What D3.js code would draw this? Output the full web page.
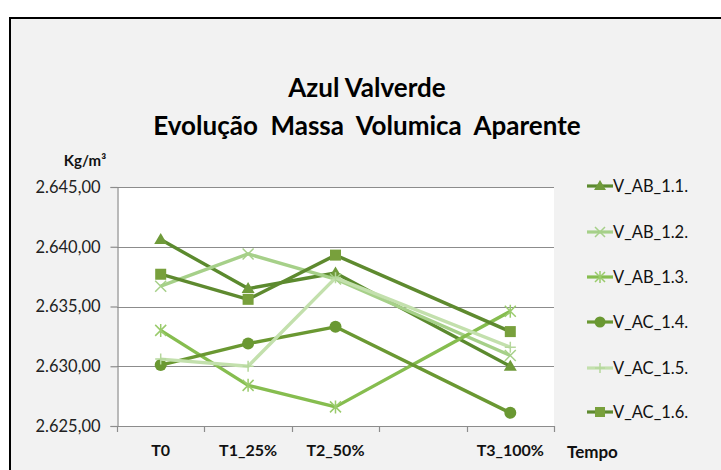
<!DOCTYPE html>
<html>
<head>
<meta charset="utf-8">
<script src="https://cdn.jsdelivr.net/npm/d3@7"></script>
<style>
  html, body { margin: 0; padding: 0; background: #ffffff; }
  svg { display: block; }
  text { font-family: Lato, "Open Sans", sans-serif; }
</style>
</head>
<body>
<div id="chart"></div>
<script>
// Categories on the time axis (the fourth slot is left empty on purpose)
const categories = ["T0", "T1_25%", "T2_50%", "", "T3_100%"];
const pointCats = ["T0", "T1_25%", "T2_50%", "T3_100%"];

// Apparent density per sample, kg/m³
const V_AB_1_1 = [2640.6, 2636.5, 2637.8, 2630.0];
const V_AB_1_2 = [2636.7, 2639.4, 2637.3, 2630.9];
const V_AB_1_3 = [2633.0, 2628.4, 2626.6, 2634.6];
const V_AC_1_4 = [2630.1, 2631.9, 2633.3, 2626.1];
const V_AC_1_5 = [2630.6, 2630.0, 2637.4, 2631.6];
const V_AC_1_6 = [2637.7, 2635.6, 2639.3, 2632.9];

const seriesNames = ["V_AB_1.1.", "V_AB_1.2.", "V_AB_1.3.", "V_AC_1.4.", "V_AC_1.5.", "V_AC_1.6."];
const seriesValues = [V_AB_1_1, V_AB_1_2, V_AB_1_3, V_AC_1_4, V_AC_1_5, V_AC_1_6];

const yTicks = [2625, 2630, 2635, 2640, 2645];

const titleLines = ["Azul Valverde", "Evolução  Massa  Volumica  Aparente"];
const yUnit = "Kg/m³";
const xTitle = "Tempo";

// Styling per series
const lineColors   = ["#5b8a2e", "#a6d089", "#86bd4f", "#6a9832", "#c3e0ad", "#5e8a2f"];
const markerColors = ["#6f9a3a", "#a6d089", "#9acb6c", "#6a9832", "#b5d79c", "#78a03c"];
const markerTypes  = ["triangle", "x", "asterisk", "circle", "plus", "square"];

const W = 721, H = 470;
const plot = { left: 117, right: 554, top: 187, bottom: 426 };

const svg = d3.select("#chart").append("svg")
  .attr("width", W).attr("height", H);

// Chart area with its frame
svg.append("rect")
  .attr("x", 10).attr("y", 18)
  .attr("width", W + 20).attr("height", H + 20)
  .attr("fill", "#f2f2f2")
  .attr("stroke", "#000").attr("stroke-width", 2);

// Titles
svg.selectAll("text.title").data(titleLines).join("text")
  .attr("class", "title")
  .attr("x", 367)
  .attr("y", (d, i) => 97 + i * 38)
  .attr("text-anchor", "middle")
  .attr("font-size", 26)
  .attr("font-weight", 700)
  .style("white-space", "pre")
  .attr("fill", "#000")
  .text(d => d);

const x = d3.scaleBand().domain(categories).range([plot.left, plot.right]);
const y = d3.scaleLinear().domain([2625, 2645]).range([plot.bottom, plot.top]);

const pt = d3.formatLocale({ decimal: ",", thousands: ".", grouping: [3], currency: ["", ""] });
const fmt = pt.format(",.2f");

// Plot area background
svg.append("rect")
  .attr("x", plot.left).attr("y", plot.top)
  .attr("width", plot.right - plot.left).attr("height", plot.bottom - plot.top)
  .attr("fill", "#ffffff");

// Horizontal gridlines
svg.append("g").selectAll("line").data(yTicks).join("line")
  .attr("x1", plot.left).attr("x2", plot.right)
  .attr("y1", d => Math.round(y(d)) + 0.5).attr("y2", d => Math.round(y(d)) + 0.5)
  .attr("stroke", "#8c8c8c").attr("stroke-width", 1.2);

// Y axis
const yAxis = svg.append("g")
  .attr("transform", `translate(${plot.left + 0.5},0)`)
  .call(d3.axisLeft(y).tickValues(yTicks).tickFormat(fmt).tickSize(7).tickPadding(10));
yAxis.select(".domain").attr("stroke", "#8c8c8c").attr("stroke-width", 1.2);
yAxis.selectAll(".tick line").attr("stroke", "#8c8c8c").attr("stroke-width", 1.2);
const yLabels = yAxis.selectAll(".tick text")
  .attr("font-family", "Lato, sans-serif").attr("font-size", 15).attr("fill", "#222");
// size the tick labels so each spans about 65px
const measured = yLabels.node().getComputedTextLength();
if (measured > 0) yLabels.attr("font-size", 15 * 65 / measured);

// X axis: ticks on category boundaries
const boundaries = categories.map(c => x(c)).concat([plot.right]);
const xg = svg.append("g");
xg.append("line")
  .attr("x1", plot.left).attr("x2", plot.right)
  .attr("y1", plot.bottom + 0.5).attr("y2", plot.bottom + 0.5)
  .attr("stroke", "#8c8c8c").attr("stroke-width", 1.2);
xg.selectAll("line.tk").data(boundaries).join("line")
  .attr("class", "tk")
  .attr("x1", d => Math.round(d) + 0.5).attr("x2", d => Math.round(d) + 0.5)
  .attr("y1", plot.bottom).attr("y2", plot.bottom + 6)
  .attr("stroke", "#8c8c8c").attr("stroke-width", 1.2);
xg.selectAll("text").data(categories.filter(c => c !== "")).join("text")
  .attr("x", d => x(d) + x.bandwidth() / 2)
  .attr("y", 456)
  .attr("text-anchor", "middle")
  .attr("font-size", 16).attr("font-weight", 700).attr("fill", "#111")
  .text(d => d);

// Axis titles
svg.append("text").attr("x", 85).attr("y", 166).attr("text-anchor", "middle")
  .attr("font-size", 15).attr("font-weight", 700).attr("fill", "#111").text(yUnit);
svg.append("text").attr("x", 567).attr("y", 458)
  .attr("font-size", 17).attr("font-weight", 700).attr("fill", "#111").text(xTitle);

// Marker drawing
function drawMarker(g, type, color, size) {
  const s = size / 2;
  if (type === "triangle") {
    g.append("path").attr("d", `M0,${-s - 1}L${s + 1},${s - 1}L${-s - 1},${s - 1}Z`).attr("fill", color);
  } else if (type === "square") {
    g.append("rect").attr("x", -s).attr("y", -s).attr("width", size).attr("height", size).attr("fill", color);
  } else if (type === "circle") {
    g.append("circle").attr("r", s + 0.5).attr("fill", color);
  } else if (type === "x") {
    g.append("path").attr("d", `M${-s},${-s}L${s},${s}M${-s},${s}L${s},${-s}`)
      .attr("stroke", color).attr("stroke-width", 1.5).attr("fill", "none");
  } else if (type === "asterisk") {
    g.append("path").attr("d", `M${-s},${-s}L${s},${s}M${-s},${s}L${s},${-s}M0,${-s - 1}L0,${s + 1}`)
      .attr("stroke", color).attr("stroke-width", 1.5).attr("fill", "none");
  } else if (type === "plus") {
    g.append("path").attr("d", `M0,${-s}L0,${s}M${-s},0L${s},0`)
      .attr("stroke", color).attr("stroke-width", 1.5).attr("fill", "none");
  }
}

const line = d3.line().x(d => d[0]).y(d => d[1]);

seriesValues.forEach((vals, i) => {
  const pts = vals.map((v, j) => [x(pointCats[j]) + x.bandwidth() / 2, y(v)]);
  const g = svg.append("g");
  g.append("path").attr("d", line(pts))
    .attr("fill", "none").attr("stroke", lineColors[i]).attr("stroke-width", 3.4)
    .attr("stroke-linejoin", "round");
  pts.forEach(p => {
    const m = g.append("g").attr("transform", `translate(${p[0]},${p[1]})`);
    drawMarker(m, markerTypes[i], markerColors[i], 11);
  });
});

// Legend
const legendY = [186, 232, 277, 322, 368, 412];
const lg = svg.append("g");
seriesNames.forEach((name, i) => {
  const yy = legendY[i];
  lg.append("line").attr("x1", 587).attr("x2", 613).attr("y1", yy).attr("y2", yy)
    .attr("stroke", lineColors[i]).attr("stroke-width", 3.2);
  const m = lg.append("g").attr("transform", `translate(600,${yy})`);
  drawMarker(m, markerTypes[i], markerColors[i], 10);
  lg.append("text").attr("x", 613).attr("y", yy + 6)
    .attr("font-size", 16.5).attr("fill", "#111").text(name);
});
</script>
</body>
</html>
